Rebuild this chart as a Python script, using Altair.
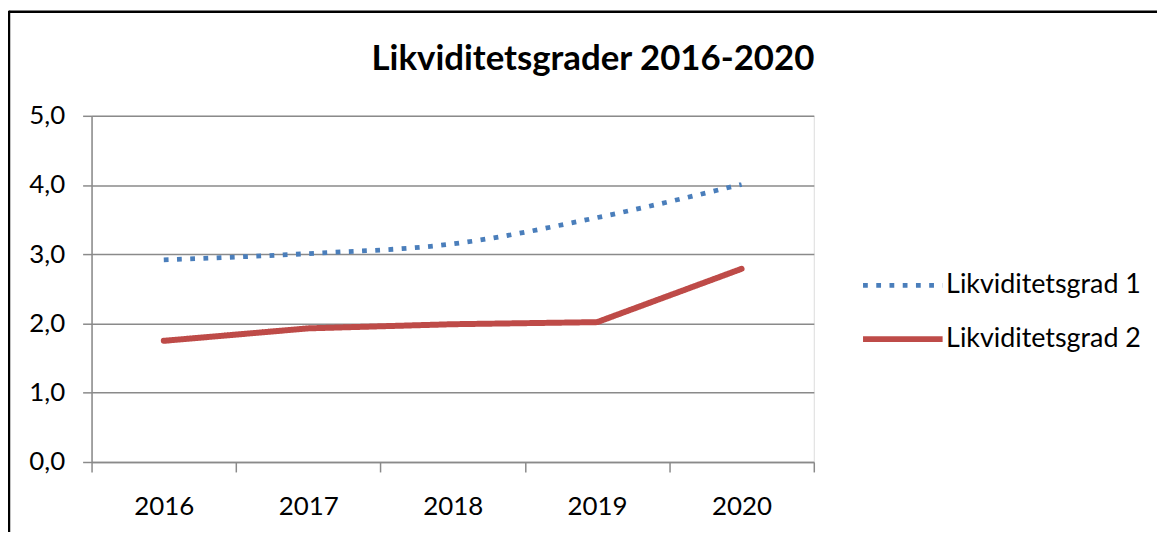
import altair as alt
import pandas as pd

years = ["2016", "2017", "2018", "2019", "2020"]
grad1 = [2.92, 3.01, 3.15, 3.53, 4.01]
grad2 = [1.75, 1.93, 1.99, 2.02, 2.79]
series_names = ["Likviditetsgrad 1", "Likviditetsgrad 2"]
y_ticks = [0, 1, 2, 3, 4, 5]
title_text = "Likviditetsgrader 2016-2020"

df = pd.DataFrame({
    "year": years * 2,
    "value": grad1 + grad2,
    "series": [series_names[0]] * len(years) + [series_names[1]] * len(years),
})

GRAY = "#8a8a8a"
TXT = "#000000"
FONT = "Lato"
W, H = 726, 348

legend = alt.Legend(
    title=None, orient="none", legendX=802, legendY=157,
    symbolType="M-4,0H4", symbolSize=400,
    labelFont=FONT, labelFontSize=27, labelColor=TXT, labelLimit=400,
    labelOffset=30, rowPadding=26, padding=0,
)

x = alt.X(
    "year:O", sort=years, bandPosition=0.5, title=None,
    scale=alt.Scale(type="band", paddingInner=0, paddingOuter=0),
    axis=alt.Axis(
        tickBand="extent", labelAngle=0, labelFont=FONT, labelFontSize=26,
        labelColor=TXT, labelPadding=22, tickSize=10, tickColor=GRAY,
        tickWidth=1.5, domainColor=GRAY, domainWidth=1.5, grid=False,
    ),
)
y = alt.Y(
    "value:Q", title=None,
    scale=alt.Scale(domain=[0, 5], nice=False),
    axis=alt.Axis(
        values=y_ticks,
        labelExpr="replace(format(datum.value, '.1f'), '.', ',')",
        labelFont=FONT, labelFontSize=26, labelColor=TXT, labelPadding=18,
        tickSize=9, tickColor=GRAY, tickWidth=1.5,
        domainColor=GRAY, domainWidth=1.5,
        grid=True, gridColor=GRAY, gridWidth=1.5,
    ),
)
color = alt.Color("series:N", scale=alt.Scale(domain=series_names, range=["#4A7EBB", "#BE4B48"]), legend=legend)
dash = alt.StrokeDash("series:N", scale=alt.Scale(domain=series_names, range=[[4.8, 8.5], [1, 0]]), legend=legend)
sw = alt.StrokeWidth("series:N", scale=alt.Scale(type="point", domain=series_names, range=[4.8, 6], padding=0), legend=legend)

base = alt.Chart(df).encode(x=x, y=y, color=color, strokeDash=dash, strokeWidth=sw)
l1 = base.transform_filter(alt.datum.series == series_names[0]).mark_line(interpolate="monotone", strokeCap="butt")
l2 = base.transform_filter(alt.datum.series == series_names[1]).mark_line(strokeCap="round", strokeJoin="round")

one = pd.DataFrame({"a": [0]})
frame_top = alt.Chart(one).mark_rule(color="black", strokeWidth=2.5).encode(
    x=alt.value(-83), x2=alt.value(1100), y=alt.value(-104.5))
frame_left = alt.Chart(one).mark_rule(color="black", strokeWidth=2.5).encode(
    x=alt.value(-83), y=alt.value(-105.5), y2=alt.value(460))

chart = alt.layer(l1, l2, frame_top, frame_left).properties(
    width=W, height=H,
    title=alt.TitleParams(title_text, font=FONT, fontSize=35, fontWeight="bold",
                          color=TXT, anchor="middle", dx=141, dy=3, offset=-65),
    padding={"left": 84, "top": 107, "right": 345, "bottom": 69},
    autosize=alt.AutoSizeParams(type="none"),
).configure_view(stroke=None).configure(background="white")

chart.save("out.html", embed_options={"renderer": "svg", "actions": False})
